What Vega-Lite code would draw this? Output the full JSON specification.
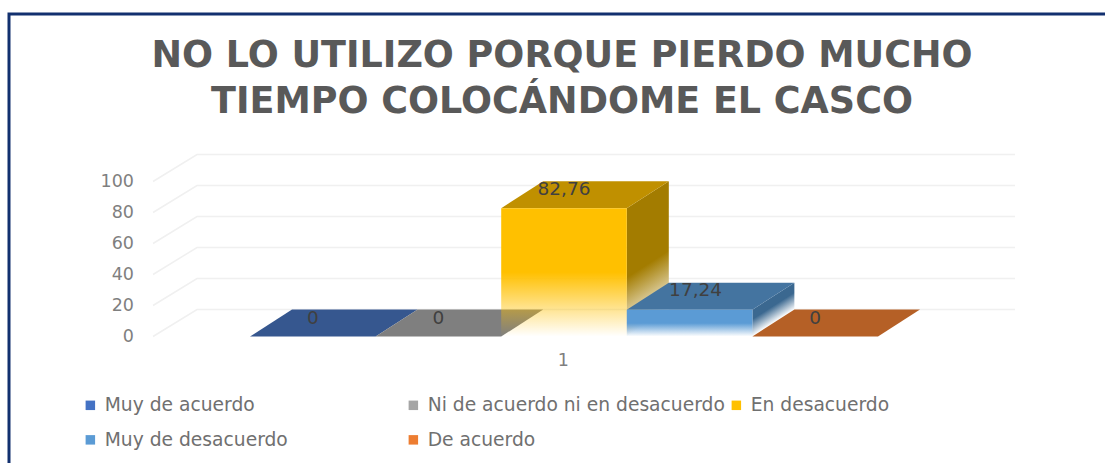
{
"$schema":"https://vega.github.io/schema/vega-lite/v6.json",
"width":822,"height":155,
"autosize":{"type":"none"},
"padding":{"left":153,"top":181.5,"right":130,"bottom":126.5},
"background":"white",
"title":{"text":["NO LO UTILIZO PORQUE PIERDO MUCHO","TIEMPO COLOCÁNDOME EL CASCO"],"font":"DejaVu Sans","fontSize":36.5,"fontWeight":"bold","color":"#595959","lineHeight":46,"anchor":"middle","frame":"group","offset":0,"dy":112,"dx":-2},
"config":{"view":{"stroke":null}},
"datasets":{
"resp":[
{"cat":"1","serie":"Muy de acuerdo","valor":0,"etiqueta":"0"},
{"cat":"1","serie":"Ni de acuerdo ni en desacuerdo","valor":0,"etiqueta":"0"},
{"cat":"1","serie":"En desacuerdo","valor":82.76,"etiqueta":"82,76"},
{"cat":"1","serie":"Muy de desacuerdo","valor":17.24,"etiqueta":"17,24"},
{"cat":"1","serie":"De acuerdo","valor":0,"etiqueta":"0"}],
"ticks":[{"t":0},{"t":20},{"t":40},{"t":60},{"t":80},{"t":100}],
"marco":[{"t":100}]
},
"layer":[
{"data":{"name":"ticks"},
 "mark":{"type":"point","shape":"M-411,0 L-367,-27 L451,-27","size":4,"filled":false,"stroke":"#f0f0f0","strokeWidth":1.5,"opacity":1},
 "encoding":{"y":{"field":"t","type":"quantitative","scale":{"domain":[0,100]},"axis":{"title":null,"domain":false,"ticks":false,"grid":false,"labels":false}}}},
{"data":{"name":"ticks"},
 "mark":{"type":"text","font":"DejaVu Sans","fontSize":17.5,"color":"#7f7f7f","align":"right","baseline":"middle","dx":-430},
 "encoding":{"y":{"field":"t","type":"quantitative"},"text":{"field":"t","type":"quantitative"}}},
{"data":{"name":"resp"},
 "transform":[{"filter":"datum.serie === 'En desacuerdo'"}],
 "mark":{"type":"point","shape":"M62.8,0 L104.8,-27 L104.8,101.3 L62.8,128.3 Z","size":4,"filled":true,"opacity":1,
  "fill":{"gradient":"linear","x1":0,"y1":0,"x2":0.169,"y2":0.971,"stops":[{"offset":0,"color":"#a37c00"},{"offset":0.62,"color":"#a37c00"},{"offset":1,"color":"#ffffff"}]}},
 "encoding":{"x":{"field":"cat","type":"nominal"},"xOffset":{"field":"serie","type":"nominal"},"y":{"field":"valor","type":"quantitative"}}},
{"data":{"name":"resp"},
 "transform":[{"filter":"datum.serie === 'Muy de desacuerdo'"}],
 "mark":{"type":"point","shape":"M62.8,0 L104.8,-27 L104.8,0 L62.8,26.7 Z","size":4,"filled":true,"opacity":1,
  "fill":{"gradient":"linear","x1":0,"y1":0,"x2":0.4,"y2":0.8,"stops":[{"offset":0,"color":"#3b6890"},{"offset":0.68,"color":"#3b6890"},{"offset":1,"color":"#ffffff"}]}},
 "encoding":{"x":{"field":"cat","type":"nominal"},"xOffset":{"field":"serie","type":"nominal"},"y":{"field":"valor","type":"quantitative"}}},
{"data":{"name":"resp"},"transform":[{"filter":"datum.serie === 'Muy de acuerdo'"}],
 "mark":{"type":"point","shape":"M-62.8,0 L-20.8,-27 L104.8,-27 L62.8,0 Z","size":4,"filled":true,"opacity":1,"fill":"#36578f"},
 "encoding":{"x":{"field":"cat","type":"nominal"},"xOffset":{"field":"serie","type":"nominal"},"y":{"field":"valor","type":"quantitative"}}},
{"data":{"name":"resp"},"transform":[{"filter":"datum.serie === 'Ni de acuerdo ni en desacuerdo'"}],
 "mark":{"type":"point","shape":"M-62.8,0 L-20.8,-27 L104.8,-27 L62.8,0 Z","size":4,"filled":true,"opacity":1,"fill":"#7f7f7f"},
 "encoding":{"x":{"field":"cat","type":"nominal"},"xOffset":{"field":"serie","type":"nominal"},"y":{"field":"valor","type":"quantitative"}}},
{"data":{"name":"resp"},"transform":[{"filter":"datum.serie === 'En desacuerdo'"}],
 "mark":{"type":"point","shape":"M-62.8,0 L-20.8,-27 L104.8,-27 L62.8,0 Z","size":4,"filled":true,"opacity":1,"fill":"#c09000"},
 "encoding":{"x":{"field":"cat","type":"nominal"},"xOffset":{"field":"serie","type":"nominal"},"y":{"field":"valor","type":"quantitative"}}},
{"data":{"name":"resp"},"transform":[{"filter":"datum.serie === 'Muy de desacuerdo'"}],
 "mark":{"type":"point","shape":"M-62.8,0 L-20.8,-27 L104.8,-27 L62.8,0 Z","size":4,"filled":true,"opacity":1,"fill":"#4474a0"},
 "encoding":{"x":{"field":"cat","type":"nominal"},"xOffset":{"field":"serie","type":"nominal"},"y":{"field":"valor","type":"quantitative"}}},
{"data":{"name":"resp"},"transform":[{"filter":"datum.serie === 'De acuerdo'"}],
 "mark":{"type":"point","shape":"M-62.8,0 L-20.8,-27 L104.8,-27 L62.8,0 Z","size":4,"filled":true,"opacity":1,"fill":"#b56026"},
 "encoding":{"x":{"field":"cat","type":"nominal"},"xOffset":{"field":"serie","type":"nominal"},"y":{"field":"valor","type":"quantitative"}}},
{"data":{"name":"resp"},
 "transform":[{"filter":"datum.valor === 0"}],
 "mark":{"type":"bar"},
 "encoding":{
  "x":{"field":"cat","type":"nominal","scale":{"type":"band","paddingInner":0,"paddingOuter":0.1545},"axis":{"title":null,"domain":false,"ticks":false,"labelAngle":0,"labelFont":"DejaVu Sans","labelFontSize":17.5,"labelColor":"#7f7f7f","labelPadding":24,"labelOffset":5}},
  "xOffset":{"field":"serie","type":"nominal","scale":{"domain":["Muy de acuerdo","Ni de acuerdo ni en desacuerdo","En desacuerdo","Muy de desacuerdo","De acuerdo"],"paddingInner":0,"paddingOuter":0}},
  "y":{"field":"valor","type":"quantitative"},
  "color":{"field":"serie","type":"nominal","scale":{"domain":["Muy de acuerdo","Ni de acuerdo ni en desacuerdo","En desacuerdo","Muy de desacuerdo","De acuerdo"],"range":["#4472c4","#a5a5a5","#ffc000","#5b9bd5","#ed7d31"]},
   "legend":{"title":null,"orient":"none","direction":"horizontal","legendX":-72,"legendY":214,"columns":3,"gridAlign":"all","symbolType":"square","symbolSize":90,"symbolStrokeWidth":0,"labelFont":"DejaVu Sans","labelFontSize":18.7,"labelColor":"#707070","labelOffset":5,"labelLimit":340,"rowPadding":15,"columnPadding":2,
   "encode":{"symbols":{"update":{"fill":{"signal":"{gradient:'linear',x1:0,y1:0,x2:0,y2:1,stops:[{offset:0,color:scale('color',datum.value)},{offset:0.5,color:scale('color',datum.value)},{offset:1,color:'#ffffff'}]}"}}}}}}
 }},
{"data":{"name":"resp"},
 "transform":[{"filter":"datum.serie === 'En desacuerdo'"}],
 "mark":{"type":"bar","fill":{"gradient":"linear","x1":0,"y1":0,"x2":0,"y2":1,"stops":[{"offset":0,"color":"#ffc000"},{"offset":0.5,"color":"#ffc000"},{"offset":1,"color":"rgba(255,192,0,0)"}]}},
 "encoding":{"x":{"field":"cat","type":"nominal"},"xOffset":{"field":"serie","type":"nominal"},"y":{"field":"valor","type":"quantitative"}}},
{"data":{"name":"resp"},
 "transform":[{"filter":"datum.serie === 'Muy de desacuerdo'"}],
 "mark":{"type":"bar","fill":{"gradient":"linear","x1":0,"y1":0,"x2":0,"y2":1,"stops":[{"offset":0,"color":"#5b9bd5"},{"offset":0.5,"color":"#5b9bd5"},{"offset":1,"color":"rgba(91,155,213,0)"}]}},
 "encoding":{"x":{"field":"cat","type":"nominal"},"xOffset":{"field":"serie","type":"nominal"},"y":{"field":"valor","type":"quantitative"}}},
{"data":{"name":"resp"},
 "transform":[{"filter":"datum.serie !== 'Muy de desacuerdo'"}],
 "mark":{"type":"text","font":"DejaVu Sans","fontSize":18.5,"color":"#404040","dy":-19},
 "encoding":{"x":{"field":"cat","type":"nominal"},"xOffset":{"field":"serie","type":"nominal"},"y":{"field":"valor","type":"quantitative"},"text":{"field":"etiqueta","type":"nominal"}}},
{"data":{"name":"resp"},
 "transform":[{"filter":"datum.serie === 'Muy de desacuerdo'"}],
 "mark":{"type":"text","font":"DejaVu Sans","fontSize":18.5,"color":"#404040","dy":-20,"dx":6},
 "encoding":{"x":{"field":"cat","type":"nominal"},"xOffset":{"field":"serie","type":"nominal"},"y":{"field":"valor","type":"quantitative"},"text":{"field":"etiqueta","type":"nominal"}}},
{"data":{"name":"marco"},
 "mark":{"type":"point","shape":"M-555,282 L-555,-167.5 L545,-167.5","size":4,"filled":false,"stroke":"#12306f","strokeWidth":3,"opacity":1},
 "encoding":{"y":{"field":"t","type":"quantitative"}}}
]
}
